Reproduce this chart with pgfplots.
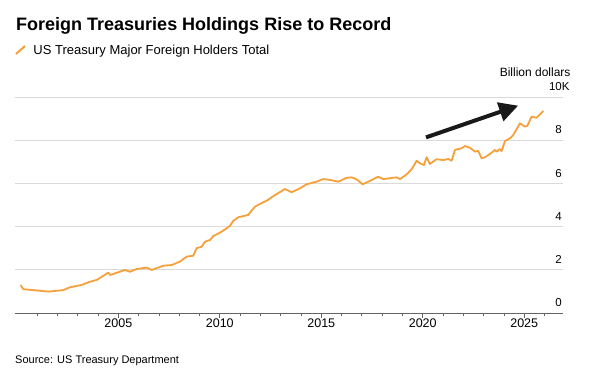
\documentclass[border=0pt]{standalone}
\usepackage{pgfplots}
\pgfplotsset{compat=1.18}
\usepackage{fontspec}
\setmainfont{Liberation Sans}
\usetikzlibrary{arrows.meta}
\definecolor{lineorange}{RGB}{245,160,58}
\definecolor{gridgray}{RGB}{218,218,218}
\definecolor{axisgray}{RGB}{100,100,100}
\begin{document}
\begin{tikzpicture}[x=1pt,y=1pt]
\path[use as bounding box] (-15pt,-58pt) rectangle (583pt,313pt);
\begin{axis}[
  at={(0pt,0pt)}, anchor=south west,
  scale only axis, width=548pt, height=216pt,
  xmin=1999.91, xmax=2026.91, ymin=0, ymax=10,
  axis line style={draw=none},
  tick align=outside,
  xtick pos=bottom,
  xtick={2005,2010,2015,2020,2025},
  xticklabels={2005,2010,2015,2020,2025},
  minor xtick={2001,2002,2003,2004,2006,2007,2008,2009,2011,2012,2013,2014,2016,2017,2018,2019,2021,2022,2023,2024,2026},
  major tick length=5pt, minor tick length=3pt,
  xtick style={draw=axisgray, line width=0.8pt},
  minor tick style={draw=axisgray, line width=0.8pt},
  xticklabel style={font=\fontsize{12.5}{14}\selectfont, anchor=north, inner sep=0pt, yshift=-1pt},
  ytick={0,2,4,6,8,10},
  yticklabels={0,2,4,6,8,10\rlap{K}},
  yticklabel pos=right,
  ytick style={draw=none},
  yticklabel style={font=\fontsize{11.5}{13}\selectfont, anchor=south east, inner sep=0pt, xshift=-6pt, yshift=6pt},
  ymajorgrids=true,
  major grid style={draw=gridgray, line width=0.8pt},
  clip=false,
]
\addplot[lineorange, line width=1.8pt, line join=round] coordinates {
(2000.19,1.30) (2000.32,1.10) (2000.81,1.06) (2001.55,0.99) (2002.29,1.06)
(2002.62,1.19) (2003.20,1.30) (2003.61,1.45) (2003.94,1.53) (2004.51,1.87)
(2004.59,1.76) (2005.33,1.99) (2005.58,1.91) (2005.91,2.04) (2006.40,2.10)
(2006.65,1.99) (2007.22,2.19) (2007.63,2.22) (2008.04,2.38) (2008.37,2.61)
(2008.69,2.65) (2008.86,3.00) (2009.11,3.07) (2009.27,3.30) (2009.52,3.38)
(2009.68,3.56) (2010.01,3.72) (2010.34,3.92) (2010.50,4.03) (2010.67,4.27)
(2010.91,4.43) (2011.40,4.54) (2011.73,4.92) (2011.98,5.05) (2012.31,5.20)
(2012.72,5.46) (2013.21,5.74) (2013.54,5.59) (2013.95,5.77) (2014.28,5.96)
(2014.77,6.08) (2015.10,6.20) (2015.43,6.16) (2015.84,6.08) (2016.25,6.26)
(2016.50,6.28) (2016.74,6.19) (2017.04,5.96) (2017.32,6.08) (2017.81,6.31)
(2018.05,6.20) (2018.38,6.24) (2018.71,6.28) (2018.88,6.20) (2019.21,6.42)
(2019.45,6.65) (2019.70,7.05) (2019.86,6.93) (2020.06,6.85) (2020.19,7.21)
(2020.35,6.90) (2020.68,7.12) (2021.01,7.08) (2021.26,7.13) (2021.42,7.05)
(2021.59,7.55) (2021.92,7.63) (2022.08,7.73) (2022.33,7.65) (2022.57,7.47)
(2022.73,7.51) (2022.90,7.16) (2023.06,7.21) (2023.31,7.36) (2023.56,7.55)
(2023.64,7.47) (2023.80,7.59) (2023.89,7.50) (2024.05,7.96) (2024.30,8.09)
(2024.46,8.24) (2024.79,8.78) (2025.03,8.63) (2025.15,8.66) (2025.36,9.09)
(2025.61,9.04) (2025.94,9.35)
};
\draw[axisgray, line width=0.8pt] (rel axis cs:0,0) -- (rel axis cs:1,0);
\draw[black!90, line width=4pt, -{Triangle[length=19pt,width=19pt]}] (axis cs:2020.16,8.13) -- (axis cs:2024.7,9.6);
\end{axis}
\node[anchor=base west, inner sep=0pt, font=\fontsize{18}{20}\selectfont\bfseries] at (1pt,282.5pt) {Foreign Treasuries Holdings Rise to Record};
\draw[lineorange, line width=2pt] (1pt,259pt) -- (10pt,267pt);
\node[anchor=base west, inner sep=0pt, font=\fontsize{13}{15}\selectfont] at (18.3pt,258.7pt) {US Treasury Major Foreign Holders Total};
\node[anchor=base east, inner sep=0pt, font=\fontsize{12}{14}\selectfont] at (555.7pt,236pt) {Billion dollars};
\node[anchor=base west, inner sep=0pt, font=\fontsize{11}{13}\selectfont] at (0pt,-50.3pt) {Source: US Treasury Department};
\end{tikzpicture}
\end{document}
